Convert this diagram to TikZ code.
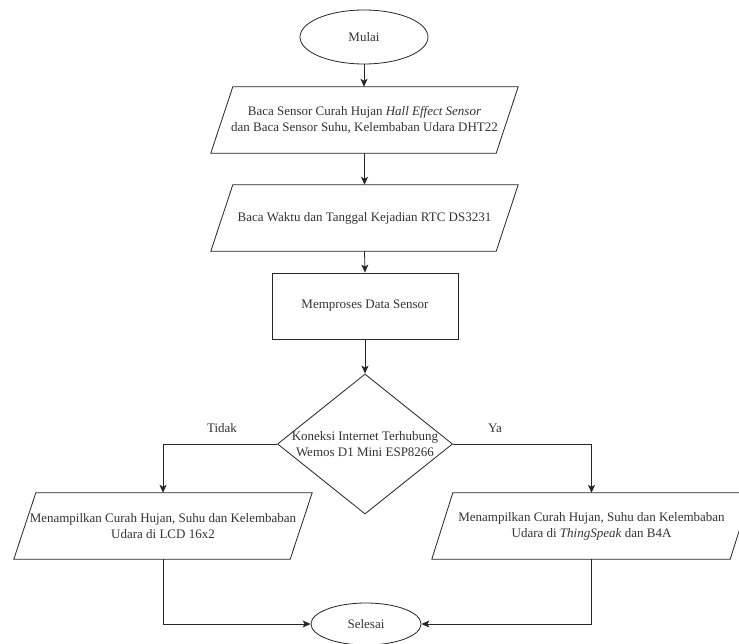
\documentclass[tikz,border=0pt]{standalone}
\usepackage{fontspec}
\setmainfont{Liberation Serif}
\usetikzlibrary{shapes.geometric,arrows.meta,calc}
\tikzset{
  line/.style={draw=black!85, line width=0.8pt},
  arr/.style={line, -{Stealth[length=8pt,width=7pt,inset=2pt]}},
  txt/.style={font=\fontsize{13}{16}\selectfont, text=black!80, align=center},
  term/.style={ellipse, line, inner sep=0pt, txt},
  procbox/.style={rectangle, line, inner sep=0pt, txt},
  iobox/.style={rectangle, inner sep=0pt, txt},
  lbl/.style={txt},
}
\newcommand\iopara[7]{%
  \node[iobox, minimum width=#4pt, minimum height=#5pt] (#1) at (#2,#3) {#7};
  \draw[line] ($(#1.north west)+(#6/2,0)$) -- ($(#1.north east)+(#6/2,0)$)
    -- ($(#1.south east)+(-#6/2,0)$) -- ($(#1.south west)+(-#6/2,0)$) -- cycle;
}
\begin{document}
\begin{tikzpicture}[x=1pt,y=-1pt]
\useasboundingbox (0,0) rectangle (739,644);
\fill[white] (0,0) rectangle (739,644);

\node[term, minimum width=128pt, minimum height=54pt] (start) at (364,37) {Mulai};
\iopara{p1}{364.5}{120}{285}{66}{22}{Baca Sensor Curah Hujan \textit{Hall Effect Sensor}\\dan Baca Sensor Suhu, Kelembaban Udara DHT22}
\iopara{p2}{364.5}{218}{285}{66}{22}{Baca Waktu dan Tanggal Kejadian RTC DS3231}
\node[procbox, minimum width=186pt, minimum height=66pt] (proc) at (365,306) {Memproses Data Sensor};
\node[diamond, line, minimum width=175pt, minimum height=140pt, inner sep=0pt] (dia) at (365,444) {};
\node[txt] (diatext) at (dia.center) {Koneksi Internet Terhubung\\Wemos D1 Mini ESP8266};
\iopara{lp}{163}{526}{276}{66}{22}{Menampilkan Curah Hujan, Suhu dan Kelembaban\\Udara di LCD 16x2}
\iopara{rp}{591.5}{526}{298}{66}{21}{Menampilkan Curah Hujan, Suhu dan Kelembaban\\Udara di \textit{ThingSpeak} dan B4A}
\node[term, minimum width=110pt, minimum height=42pt] (stop) at (366,624) {Selesai};

\node[lbl] (tidak) at (222,428) {Tidak};
\node[lbl] (ya) at (495,428) {Ya};

\draw[arr] (start.south) -- (start.south |- p1.north);
\draw[arr] (p1.south) -- (p2.north);
\draw[arr] (p2.south) -- (proc.north);
\draw[arr] (proc.south) -- (dia.north);
\draw[arr] (dia.west) -| (lp.north);
\draw[arr] (dia.east) -| (rp.north);
\draw[arr] (lp.south) |- (stop.west);
\draw[arr] (rp.south) |- (stop.east);
\end{tikzpicture}
\end{document}
